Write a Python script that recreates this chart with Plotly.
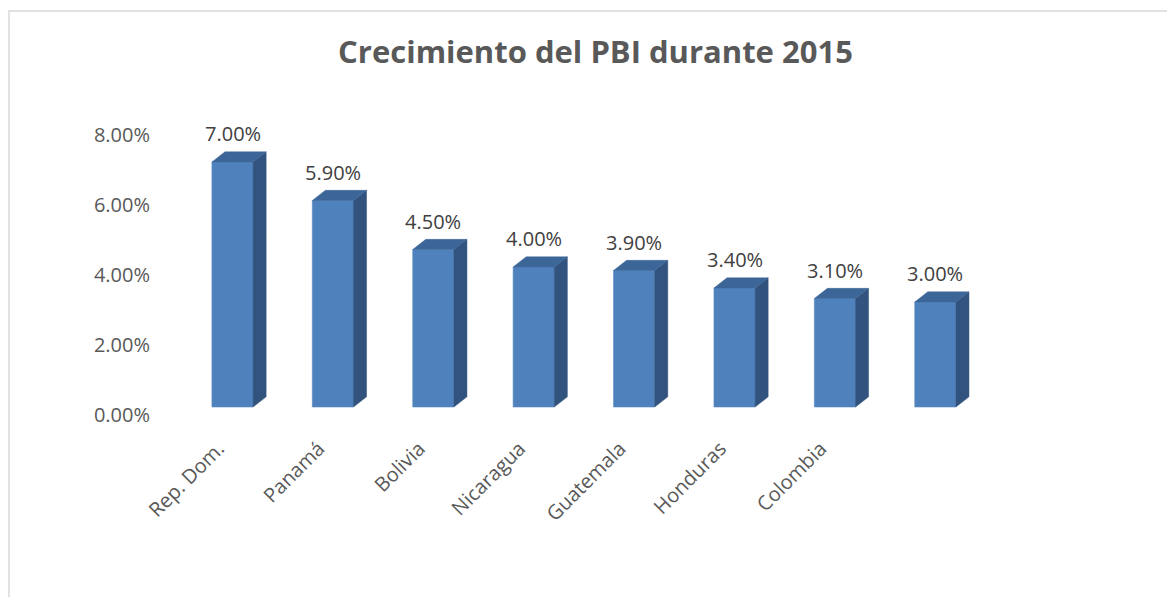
import plotly.graph_objects as go

# ---- data ----
categories = ["Rep. Dom.", "Panamá", "Bolivia", "Nicaragua", "Guatemala", "Honduras", "Colombia", ""]
growth = [7.00, 5.90, 4.50, 4.00, 3.90, 3.40, 3.10, 3.00]
y_ticks = [0, 2, 4, 6, 8]
title_text = "Crecimiento del PBI durante 2015"

FRONT = "#4F81BD"
SIDE = "#31537D"
TOP = "#3D6698"
TXT = "#595959"
LBL = "#404040"
FONT = "Open Sans"

idx = list(range(len(growth)))
bar_w = 0.41
dx = 0.13   # depth offset in category units
dy = 0.29   # depth offset in value units

# side and top faces derived from the data values
side_x, side_y, top_x, top_y = [], [], [], []
for i, v in zip(idx, growth):
    xl, xr = i - bar_w / 2, i + bar_w / 2
    side_x += [xr, xr + dx, xr + dx, xr, xr, None]
    side_y += [0, dy, v + dy, v, 0, None]
    top_x += [xl, xl + dx, xr + dx, xr, xl, None]
    top_y += [v, v + dy, v + dy, v, v, None]

fig = go.Figure()
fig.add_trace(go.Bar(x=idx, y=growth, width=bar_w, marker=dict(color=FRONT, line=dict(width=0.6, color="#5B8BC6")),
                     hoverinfo="skip", xaxis="x", yaxis="y"))
fig.add_trace(go.Scatter(x=side_x, y=side_y, fill="toself", fillcolor=SIDE, mode="lines",
                         line=dict(width=0.5, color=SIDE), hoverinfo="skip", xaxis="x", yaxis="y"))
fig.add_trace(go.Scatter(x=top_x, y=top_y, fill="toself", fillcolor=TOP, mode="lines",
                         line=dict(width=0.5, color=TOP), hoverinfo="skip", xaxis="x", yaxis="y"))
# invisible trace so the label axes are rendered
fig.add_trace(go.Scatter(x=[0], y=[0], mode="markers", marker=dict(opacity=0), hoverinfo="skip",
                         xaxis="x2", yaxis="y2"))

for i, v in zip(idx, growth):
    fig.add_annotation(x=i, y=v, xref="x", yref="y", text=f"{v:.2f}%", showarrow=False,
                       yanchor="bottom", yshift=13, font=dict(family=FONT, size=20, color=LBL))

x0, x1 = -0.6225, 7.644
fig.update_layout(
    width=1175, height=597,
    margin=dict(l=162, r=183, t=92, b=173),
    paper_bgcolor="white", plot_bgcolor="rgba(0,0,0,0)",
    showlegend=False,
    title=dict(text=f"<b>{title_text}</b>", x=0.5, xanchor="center", y=1 - 44 / 597, yanchor="middle",
               yref="container", font=dict(family=FONT, size=31, color=TXT)),
    xaxis=dict(range=[x0, x1], showticklabels=False, showgrid=False, zeroline=False, showline=False, ticks=""),
    xaxis2=dict(range=[x0 + 0.14, x1 + 0.14], overlaying="x", side="bottom", anchor="y2",
                tickvals=idx, ticktext=categories, tickangle=-45,
                showgrid=False, zeroline=False, showline=False, ticks="",
                tickfont=dict(family=FONT, size=20, color=TXT)),
    yaxis=dict(range=[-0.7143, 8.7714], showticklabels=False, showgrid=False, zeroline=False, showline=False),
    yaxis2=dict(range=[-0.4857, 9.0], overlaying="y", side="left", anchor="x2", tickvals=y_ticks,
                ticktext=[f"{t:.2f}%" for t in y_ticks], showgrid=False, zeroline=False, showline=False,
                ticks="", ticklabelstandoff=19, tickfont=dict(family=FONT, size=20, color=TXT)),
    shapes=[dict(type="rect", xref="paper", yref="paper", x0=-0.194, x1=1.217, y0=-0.506, y1=1.268,
                 line=dict(color="#D9D9D9", width=1.5), fillcolor="rgba(0,0,0,0)", layer="below")],
)

fig.write_html("out.html")
